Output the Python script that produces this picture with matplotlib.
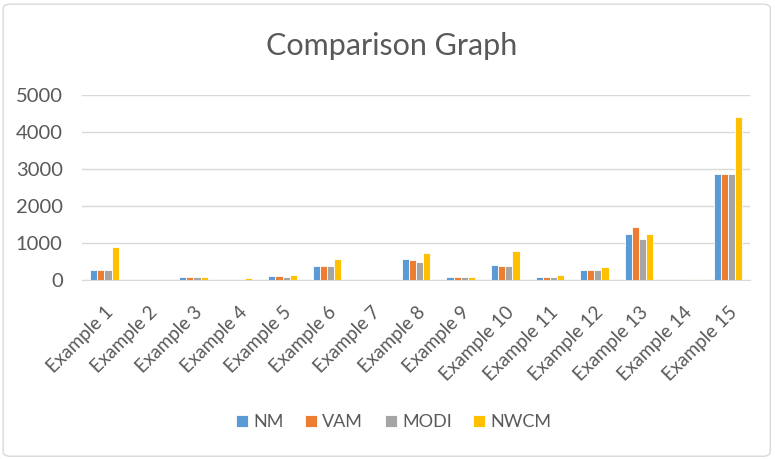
import numpy as np
import matplotlib.pyplot as plt
from matplotlib.patches import FancyBboxPatch

plt.rcParams['font.family'] = ['Lato', 'DejaVu Sans']

categories = [f"Example {i}" for i in range(1, 16)]
nm = [275, 0, 73, 0, 110, 376, 0, 569, 73, 413, 73, 261, 1243, 0, 2856]
vam = [275, 0, 73, 0, 110, 376, 0, 532, 73, 376, 73, 261, 1441, 0, 2856]
modi = [275, 0, 73, 0, 73, 376, 0, 495, 73, 376, 73, 261, 1117, 0, 2856]
nwcm = [880, 0, 73, 45, 138, 560, 0, 725, 73, 789, 135, 360, 1243, 30, 4414]

series = [("NM", nm, "#5B9BD5"), ("VAM", vam, "#ED7D31"),
          ("MODI", modi, "#A5A5A5"), ("NWCM", nwcm, "#FFC000")]

fig = plt.figure(figsize=(7.75, 4.59), dpi=100)
ax = fig.add_axes([0.106, 0.39, 0.862, 0.403])

x = np.arange(len(categories))
w = 0.16
for k, (name, vals, col) in enumerate(series):
    ax.bar(x + (k - 1.5) * w, vals, width=w, color=col, edgecolor="white",
           linewidth=0.6, label=name, zorder=3)

ax.set_xlim(-0.5, len(categories) - 0.5)
ax.set_ylim(0, 5000)
ax.set_yticks(range(0, 5001, 1000))
ax.yaxis.grid(True, color="#D9D9D9", linewidth=1, zorder=0)
for s in ["top", "right", "left"]:
    ax.spines[s].set_visible(False)
ax.spines["bottom"].set_color("#D9D9D9")
ax.tick_params(axis="both", length=0, colors="#595959")
ax.tick_params(axis="y", pad=14, labelsize=14.5)
ax.tick_params(axis="x", pad=17, labelsize=13.5)
ax.set_xticks(x)
ax.set_xticklabels(categories, rotation=45, ha="right", rotation_mode="anchor")

fig.text(0.505, 0.9, "Comparison Graph", ha="center", va="center",
         fontsize=22, color="#595959")

fig.legend(loc="center", bbox_to_anchor=(0.508, 0.08), ncol=4, frameon=False,
           fontsize=13, labelcolor="#595959", handlelength=0.65, handleheight=0.65,
           handletextpad=0.3, columnspacing=1.2)

border = FancyBboxPatch((0.004, 0.006), 0.99, 0.985, boxstyle="round,pad=0,rounding_size=0.01",
                        transform=fig.transFigure, facecolor="none",
                        edgecolor="#D9D9D9", linewidth=1)
fig.patches.append(border)

fig.savefig("out.png", dpi=100)
